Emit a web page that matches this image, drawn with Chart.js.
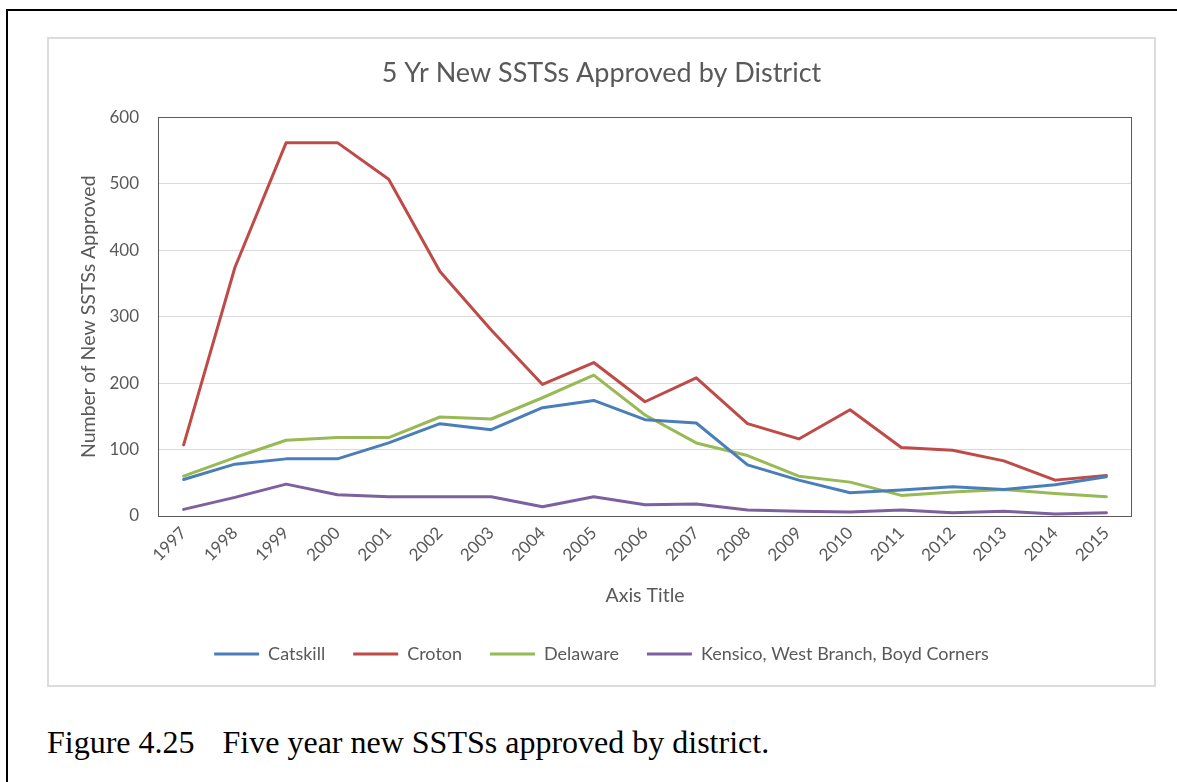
<!DOCTYPE html>
<html>
<head>
<meta charset="utf-8">
<script src="https://cdn.jsdelivr.net/npm/chart.js@4/dist/chart.umd.min.js"></script>
<style>
  html, body { margin: 0; padding: 0; background: #fff; width: 1177px; height: 782px; overflow: hidden; }
  #frame { position: absolute; left: 6px; top: 9px; width: 1300px; height: 900px; border: 2px solid #000; box-sizing: border-box; }
  #box { position: absolute; left: 47px; top: 37px; width: 1109px; height: 650px; border: 2px solid #dcdcdc; box-sizing: border-box; background: #fff; }
  #box canvas { position: absolute; left: 0; top: 0; }
  #caption { position: absolute; left: 47px; top: 723px; font-family: "Liberation Serif", "Times New Roman", serif; font-size: 32px; line-height: 38px; color: #000; white-space: nowrap; }
  #caption .num { display: inline-block; margin-right: 28px; }
</style>
</head>
<body>
<div id="frame"></div>
<div id="box"><canvas id="chart" width="1105" height="646" style="width:1105px;height:646px"></canvas></div>
<div id="caption"><span class="num">Figure 4.25</span>Five year new SSTSs approved by district.</div>
<script>
// Years on the category axis
const years = ["1997","1998","1999","2000","2001","2002","2003","2004","2005","2006",
               "2007","2008","2009","2010","2011","2012","2013","2014","2015"];

// New SSTSs approved per district (five-year figures)
const catskill = [55, 78, 86, 86, 110, 139, 130, 163, 174, 145, 140, 77, 54, 35, 39, 44, 40, 47, 59];
const croton   = [107, 374, 562, 562, 507, 368, 280, 198, 231, 172, 208, 139, 116, 160, 103, 99, 83, 54, 61];
const delaware = [60, 88, 114, 118, 118, 149, 146, 178, 212, 152, 110, 91, 60, 51, 31, 36, 40, 34, 29];
const kensico  = [10, 28, 48, 32, 29, 29, 29, 14, 29, 17, 18, 9, 7, 6, 9, 5, 7, 3, 5];

// Y axis range and step
const yMin = 0, yMax = 600, yStep = 100;

const seriesNames = ["Catskill", "Croton", "Delaware", "Kensico, West Branch, Boyd Corners"];
const seriesData = [catskill, croton, delaware, kensico];
const seriesColors = ["#4A7EBB", "#BE4B48", "#98B954", "#7D60A0"];

const textGray = "#595959";
const fontFamily = "Lato, 'Open Sans', sans-serif";

// Thin dark frame round the plot area
const plotFrame = {
  id: "plotFrame",
  beforeDatasetsDraw(chart) {
    const { ctx, chartArea: a } = chart;
    ctx.save();
    ctx.strokeStyle = "#5a5a5a";
    ctx.lineWidth = 1;
    ctx.strokeRect(Math.round(a.left) + 0.5, Math.round(a.top) + 0.5,
                   Math.round(a.right - a.left) - 1, Math.round(a.bottom - a.top));
    ctx.restore();
  }
};

new Chart(document.getElementById("chart"), {
  type: "line",
  data: {
    labels: years,
    datasets: seriesNames.map((name, i) => ({
      label: name,
      data: seriesData[i],
      borderColor: seriesColors[i],
      backgroundColor: seriesColors[i],
      borderWidth: 3,
      pointRadius: 0,
      pointHoverRadius: 0,
      tension: 0,
      borderJoinStyle: "round",
      borderCapStyle: "round",
      fill: false
    }))
  },
  options: {
    responsive: false,
    animation: false,
    events: [],
    layout: { padding: { left: 22, right: 22, top: 0, bottom: 12 } },
    plugins: {
      title: {
        display: true,
        text: "5 Yr New SSTSs Approved by District",
        color: textGray,
        font: { family: fontFamily, size: 27, weight: "normal", lineHeight: 1.2 },
        padding: { top: 18, bottom: 28 }
      },
      legend: {
        display: true,
        position: "bottom",
        labels: {
          color: textGray,
          font: { family: fontFamily, size: 18 },
          boxWidth: 45,
          boxHeight: 3,
          padding: 28,
          generateLabels(chart) {
            return Chart.defaults.plugins.legend.labels.generateLabels(chart).map(item => {
              item.lineWidth = 0;
              item.fillStyle = item.strokeStyle;
              return item;
            });
          }
        }
      },
      tooltip: { enabled: false }
    },
    scales: {
      x: {
        type: "category",
        offset: true,
        grid: { display: false, drawTicks: false },
        border: { display: false },
        ticks: {
          color: textGray,
          font: { family: fontFamily, size: 17 },
          minRotation: 45,
          maxRotation: 45,
          autoSkip: false,
          padding: 7
        },
        title: {
          display: true,
          text: "Axis Title",
          color: textGray,
          font: { family: fontFamily, size: 19.5, lineHeight: 1.2 },
          padding: { top: 0, bottom: 10 }
        },
        afterFit(scale) { scale.height = 101; }
      },
      y: {
        min: yMin,
        max: yMax,
        grid: { color: "#d9d9d9", lineWidth: 1, drawTicks: false },
        border: { display: false },
        ticks: {
          stepSize: yStep,
          color: textGray,
          font: { family: fontFamily, size: 17 },
          padding: 19
        },
        title: {
          display: true,
          text: "Number of New SSTSs Approved",
          color: textGray,
          font: { family: fontFamily, size: 19.5, lineHeight: 1.2 },
          padding: { top: 6, bottom: 0 }
        },
        afterFit(scale) { scale.width = 87; }
      }
    }
  },
  plugins: [plotFrame]
});
</script>
</body>
</html>
